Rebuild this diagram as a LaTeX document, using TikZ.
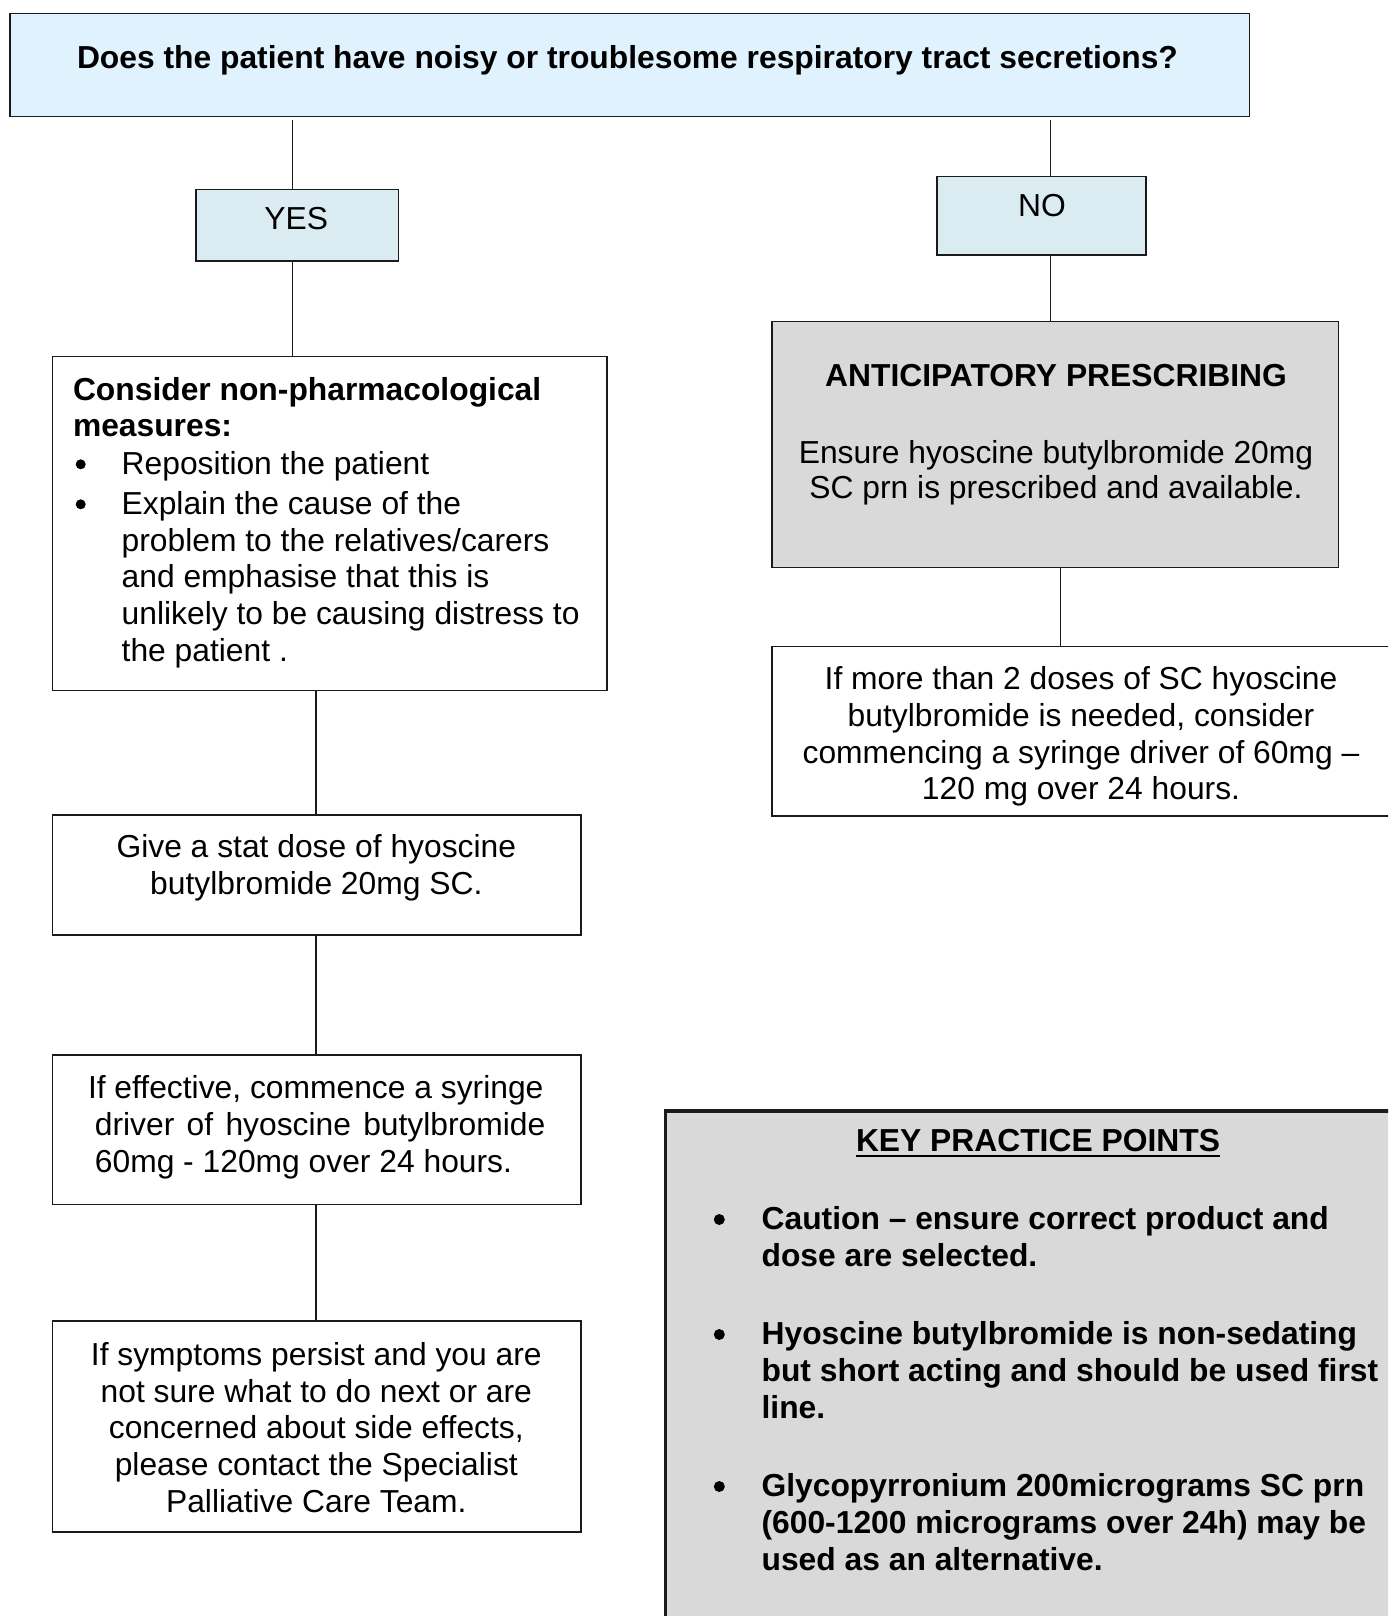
\documentclass[tikz,border=0pt]{standalone}
\usepackage{fontspec}
\setmainfont{Liberation Sans}
\usetikzlibrary{fit}

\definecolor{qblue}{HTML}{DFF2FE}
\definecolor{ablue}{HTML}{DAECF2}
\definecolor{pgray}{HTML}{D9D9D9}
\definecolor{edge}{HTML}{1A1A1A}

% strut that fixes the top of a first line 12pt above its baseline
\newcommand\fls{\rule{0pt}{12pt}}
\newcommand\bodyfont{\fontsize{15.9pt}{18.35pt}\selectfont}
\newcommand\keyfont{\fontsize{15.9pt}{18.5pt}\selectfont\bfseries}
\newcommand\ulined[1]{\setbox0\hbox{#1}\rlap{\rule[-3pt]{\wd0}{1pt}}\box0}

\begin{document}
\begin{tikzpicture}[x=0.5pt,y=-0.5pt,
  box/.style={draw=edge, line width=0.75pt, inner sep=0pt, outer sep=0pt},
  txt/.style={inner sep=0pt, outer sep=0pt, font=\bodyfont},
  link/.style={draw=edge, line width=0.75pt},
  dot/.style={circle, fill=black, draw=none, inner sep=0pt, minimum size=5pt},
  keydot/.style={circle, fill=black, draw=none, inner sep=0pt, minimum size=5.5pt}]
\useasboundingbox (0,0) rectangle (1388,1616);
\fill[white] (0,0) rectangle (1388,1616);
\clip (0,0) rectangle (1388,1616);

% ---------- boxes ----------
\node[box, fill=qblue, fit={(9.8,13.3) (1249.4,116.7)}] (question) {};
\node[box, fill=ablue, fit={(196,189.3) (398.3,261)}] (yes) {};
\node[box, fill=ablue, fit={(937,176.7) (1145.8,255)}] (no) {};
\node[box, fill=white, fit={(52.6,356.7) (607,690.7)}] (nonpharm) {};
\node[box, fill=white, fit={(52.4,815) (581,935)}] (stat) {};
\node[box, fill=white, fit={(52.4,1055) (581,1204.6)}] (effective) {};
\node[box, fill=white, fit={(52.4,1321) (581,1532)}] (persist) {};
\node[box, fill=pgray, fit={(772,321.7) (1338.7,567.3)}] (anticip) {};
\node[box, fill=white, fit={(772,646.7) (1391,816)}] (moredoses) {};
\node[box, fill=pgray, line width=1.6pt, fit={(665.5,1111) (1412,1650)}] (keypoints) {};

% ---------- connectors ----------
\coordinate (xyes) at (292.7,0);
\coordinate (xno) at (1050.3,0);
\coordinate (xant) at (1060.4,0);
\coordinate (xleft) at (316.2,0);
\draw[link] ([yshift=-1.6pt]question.south -| xyes) -- (yes.north -| xyes);
\draw[link] (yes.south -| xyes) -- (nonpharm.north -| xyes);
\draw[link] ([yshift=-1.6pt]question.south -| xno) -- (no.north -| xno);
\draw[link] (no.south -| xno) -- (anticip.north -| xno);
\draw[link] (anticip.south -| xant) -- (moredoses.north -| xant);
\draw[link] (nonpharm.south -| xleft) -- (stat.north -| xleft);
\draw[link] (stat.south -| xleft) -- (effective.north -| xleft);
\draw[link] (effective.south -| xleft) -- (persist.north -| xleft);

% ---------- texts ----------
\node[txt, font=\bodyfont\bfseries, anchor=base] (qtext) at (627.5,68.3)
  {Does the patient have noisy or troublesome respiratory tract secretions?};
\node[txt, anchor=base] (yestext) at (296.3,229.7) {YES};
\node[txt, anchor=base] (notext) at (1042,216.9) {NO};

\node[txt, font=\bodyfont\bfseries, anchor=north west, align=left] (nphead) at (73,376)
  {\fls Consider non-pharmacological\\measures:};
\node[dot] (np1) at (80.7,464.3) {};
\node[txt, anchor=north west, align=left] (np1text) at (121.7,450.3)
  {\fls Reposition the patient};
\node[dot] (np2) at (80.7,504.3) {};
\node[txt, anchor=north west, align=left] (np2text) at (121.7,490.3)
  {\fls Explain the cause of the\\problem to the relatives/carers\\and emphasise that this is\\unlikely to be causing distress to\\the patient .};

\node[txt, anchor=north, align=center] (stattext) at (316.3,833.7)
  {\fls Give a stat dose of hyoscine\\butylbromide 20mg SC.};
\node[txt, anchor=north west, align=left] (efftext) at (94.9,1074.7)
  {\fls\hspace*{-3.45pt}If effective, commence a syringe\\\makebox[225.25pt][s]{driver of hyoscine butylbromide}\\60mg - 120mg over 24 hours.};
\node[txt, anchor=north, align=center] (persisttext) at (316.3,1341.3)
  {\fls If symptoms persist and you are\\not sure what to do next or are\\concerned about side effects,\\please contact the Specialist\\Palliative Care Team.};

\node[txt, font=\bodyfont\bfseries, anchor=base] (antictitle) at (1056,386.9)
  {ANTICIPATORY PRESCRIBING};
\node[txt, anchor=north, align=center] (anticbody) at (1056,439)
  {\fls Ensure hyoscine butylbromide 20mg\\[-0.6pt]SC prn is prescribed and available.};
\node[txt, anchor=north, align=center] (moretext) at (1081,665.8)
  {\fls If more than 2 doses of SC hyoscine\\butylbromide is needed, consider\\commencing a syringe driver of 60mg –\\120 mg over 24 hours.};

\node[txt, font=\bodyfont\bfseries, anchor=base] (keytitle) at (1038,1151)
  {\ulined{KEY PRACTICE POINTS}};
\node[keydot] (k1) at (719.3,1219.5) {};
\node[txt, font=\keyfont, anchor=north west, align=left] (k1text) at (761.6,1205.6)
  {\fls Caution – ensure correct product and\\dose are selected.};
\node[keydot] (k2) at (719.3,1334.5) {};
\node[txt, font=\keyfont, anchor=north west, align=left] (k2text) at (761.6,1320.7)
  {\fls Hyoscine butylbromide is non-sedating\\but short acting and should be used first\\line.};
\node[keydot] (k3) at (719.3,1486.5) {};
\node[txt, font=\keyfont, anchor=north west, align=left] (k3text) at (761.6,1472.7)
  {\fls Glycopyrronium 200micrograms SC prn\\(600-1200 micrograms over 24h) may be\\used as an alternative.};
\end{tikzpicture}
\end{document}
